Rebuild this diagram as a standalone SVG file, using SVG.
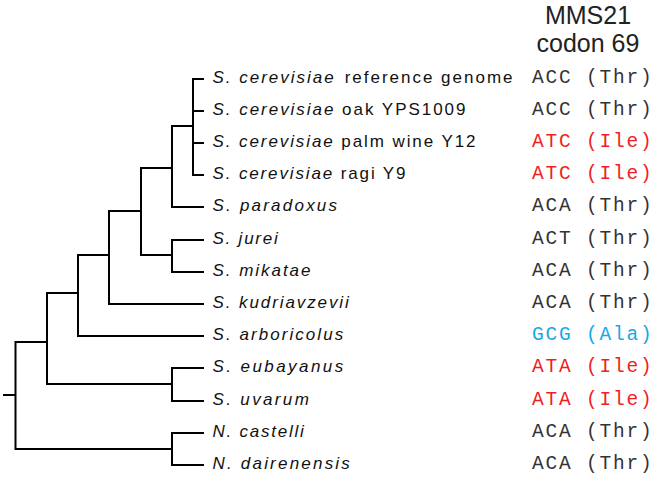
<svg xmlns="http://www.w3.org/2000/svg" width="653" height="482" viewBox="0 0 653 482">
<style>
.br{fill:none;stroke:#000;stroke-width:2;stroke-linejoin:miter;stroke-linecap:butt}
.lb{font-family:"Liberation Sans",Arial,sans-serif;font-size:17px;fill:#111}
.sp{font-style:italic}
.cd{font-family:"Liberation Mono","Courier New",monospace;font-size:19.5px;letter-spacing:1.8px;fill:#333}
.red{fill:#f01e23}
.blue{fill:#14a9e8}
.hd{font-family:"Liberation Sans",Arial,sans-serif;font-size:25px;fill:#222;text-anchor:middle}
</style>
<rect width="653" height="482" fill="#fff"/>
<g id="connectors">
<path class="br" d="M204 79 H193 V175 H204 M193 111 H204 M193 143 H204"/>
<path class="br" d="M193 126 H172 V207 H204"/>
<path class="br" d="M204 240 H172 V272 H204"/>
<path class="br" d="M172 168 H141 V255 H172"/>
<path class="br" d="M141 211 H109 V304 H204"/>
<path class="br" d="M109 255 H78 V336 H204"/>
<path class="br" d="M204 368 H172 V401 H204"/>
<path class="br" d="M78 293 H47 V384 H172"/>
<path class="br" d="M204 433 H172 V465 H204"/>
<path class="br" d="M47 342 H15.5 V449 H172"/>
<path class="br" d="M3 395 H15.5"/>
</g>
<g id="header">
<text class="hd" x="588" y="24">MMS21</text>
<text class="hd" x="588" y="52">codon 69</text>
</g>
<g id="leaf1"><text class="lb" x="212.5" y="83" textLength="300"><tspan class="sp">S. cerevisiae</tspan><tspan dx="9">reference genome</tspan></text><text class="cd" x="532" y="83">ACC (Thr)</text></g>
<g id="leaf2"><text class="lb" x="212.5" y="115" textLength="253"><tspan class="sp">S. cerevisiae</tspan> oak YPS1009</text><text class="cd" x="532" y="115">ACC (Thr)</text></g>
<g id="leaf3"><text class="lb" x="212.5" y="147" textLength="263"><tspan class="sp">S. cerevisiae</tspan> palm wine Y12</text><text class="cd red" x="532" y="147">ATC (Ile)</text></g>
<g id="leaf4"><text class="lb" x="212.5" y="179" textLength="193"><tspan class="sp">S. cerevisiae</tspan> ragi Y9</text><text class="cd red" x="532" y="179">ATC (Ile)</text></g>
<g id="leaf5"><text class="lb sp" x="212.5" y="211" textLength="124.5">S. paradoxus</text><text class="cd" x="532" y="211">ACA (Thr)</text></g>
<g id="leaf6"><text class="lb sp" x="212.5" y="244" textLength="65.3">S. jurei</text><text class="cd" x="532" y="244">ACT (Thr)</text></g>
<g id="leaf7"><text class="lb sp" x="212.5" y="276" textLength="98">S. mikatae</text><text class="cd" x="532" y="276">ACA (Thr)</text></g>
<g id="leaf8"><text class="lb sp" x="212.5" y="308" textLength="136.3">S. kudriavzevii</text><text class="cd" x="532" y="308">ACA (Thr)</text></g>
<g id="leaf9"><text class="lb sp" x="212.5" y="340" textLength="130.7">S. arboricolus</text><text class="cd blue" x="532" y="340">GCG (Ala)</text></g>
<g id="leaf10"><text class="lb sp" x="212.5" y="372" textLength="130.7">S. eubayanus</text><text class="cd red" x="532" y="372">ATA (Ile)</text></g>
<g id="leaf11"><text class="lb sp" x="212.5" y="405" textLength="96.3">S. uvarum</text><text class="cd red" x="532" y="405">ATA (Ile)</text></g>
<g id="leaf12"><text class="lb sp" x="212.5" y="437" textLength="91.3">N. castelli</text><text class="cd" x="532" y="437">ACA (Thr)</text></g>
<g id="leaf13"><text class="lb sp" x="212.5" y="469" textLength="137.3">N. dairenensis</text><text class="cd" x="532" y="469">ACA (Thr)</text></g>
</svg>
